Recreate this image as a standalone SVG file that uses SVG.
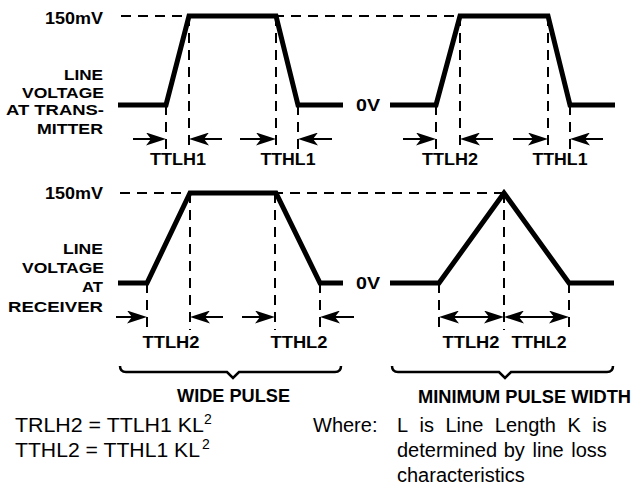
<svg xmlns="http://www.w3.org/2000/svg" width="633" height="491" viewBox="0 0 633 491">
<style>
  .wave { fill: none; stroke: #000; stroke-width: 5; stroke-linejoin: miter; stroke-linecap: butt; }
  .dash { fill: none; stroke: #000; stroke-width: 2; stroke-dasharray: 10 7; }
  .arr { stroke: #000; stroke-width: 2; }
  .brace { fill: none; stroke: #000; stroke-width: 2.5; stroke-linejoin: miter; }
  .lbl { font-family: "Liberation Sans", Arial, sans-serif; font-weight: bold; font-size: 17px; fill: #000; }
  .stk { font-family: "Liberation Sans", Arial, sans-serif; font-weight: bold; font-size: 15.5px; fill: #000; }
  .big { font-family: "Liberation Sans", Arial, sans-serif; font-weight: bold; font-size: 18px; fill: #000; }
  .txt { font-family: "Liberation Sans", Arial, sans-serif; font-size: 20px; fill: #000; }
  .sup { font-family: "Liberation Sans", Arial, sans-serif; font-size: 14px; fill: #000; }
</style>
<defs>
  <marker id="ah" markerUnits="userSpaceOnUse" markerWidth="20" markerHeight="13" viewBox="0 0 20 13" refX="17" refY="6.5" orient="auto-start-reverse">
    <path d="M0,0 L20,6.5 L0,13 L5,6.5 Z" fill="#000"/>
  </marker>
</defs>

<g id="reference-lines">
  <line class="dash" x1="121" y1="16" x2="458" y2="16"/>
  <line class="dash" x1="120" y1="193" x2="503" y2="193"/>
  <line class="dash" x1="166" y1="105" x2="166" y2="152"/>
  <line class="dash" x1="189" y1="16" x2="189" y2="152"/>
  <line class="dash" x1="276" y1="16" x2="276" y2="152"/>
  <line class="dash" x1="298" y1="105" x2="298" y2="152"/>
  <line class="dash" x1="436" y1="105" x2="436" y2="152"/>
  <line class="dash" x1="460" y1="16" x2="460" y2="152"/>
  <line class="dash" x1="548" y1="16" x2="548" y2="152"/>
  <line class="dash" x1="570" y1="105" x2="570" y2="152"/>
  <line class="dash" x1="147" y1="283" x2="147" y2="330"/>
  <line class="dash" x1="190" y1="193" x2="190" y2="330"/>
  <line class="dash" x1="275" y1="193" x2="275" y2="330"/>
  <line class="dash" x1="320" y1="283" x2="320" y2="330"/>
  <line class="dash" x1="439" y1="283" x2="439" y2="330"/>
  <line class="dash" x1="504" y1="193" x2="504" y2="330"/>
  <line class="dash" x1="569" y1="283" x2="569" y2="330"/>
</g>

<g id="waveform-transmitter-wide">
  <polyline class="wave" points="118,105 166,105 189,16 276,16 298,105 343,105"/>
</g>
<g id="waveform-transmitter-min">
  <polyline class="wave" points="390,105 436,105 460,16 548,16 570,105 615,105"/>
</g>
<g id="waveform-receiver-wide">
  <polyline class="wave" points="118,283 147,283 190,193 276,193 320,283 343,283"/>
</g>
<g id="waveform-receiver-min">
  <polyline class="wave" points="390,283 439,283 504,193 569,283 614,283"/>
</g>

<g id="connectors">
  <line class="arr" x1="133" y1="139" x2="163" y2="139" marker-end="url(#ah)"/>
  <line class="arr" x1="222" y1="139" x2="192" y2="139" marker-end="url(#ah)"/>
  <line class="arr" x1="240" y1="139" x2="273" y2="139" marker-end="url(#ah)"/>
  <line class="arr" x1="332" y1="139" x2="301" y2="139" marker-end="url(#ah)"/>
  <line class="arr" x1="403" y1="139" x2="433" y2="139" marker-end="url(#ah)"/>
  <line class="arr" x1="493" y1="139" x2="463" y2="139" marker-end="url(#ah)"/>
  <line class="arr" x1="513" y1="139" x2="545" y2="139" marker-end="url(#ah)"/>
  <line class="arr" x1="603" y1="139" x2="573" y2="139" marker-end="url(#ah)"/>
  <line class="arr" x1="116" y1="317" x2="144" y2="317" marker-end="url(#ah)"/>
  <line class="arr" x1="223" y1="317" x2="193" y2="317" marker-end="url(#ah)"/>
  <line class="arr" x1="242" y1="317" x2="272" y2="317" marker-end="url(#ah)"/>
  <line class="arr" x1="354" y1="317" x2="323" y2="317" marker-end="url(#ah)"/>
  <line class="arr" x1="442" y1="317" x2="501" y2="317" marker-start="url(#ah)" marker-end="url(#ah)"/>
  <line class="arr" x1="507" y1="317" x2="566" y2="317" marker-start="url(#ah)" marker-end="url(#ah)"/>
</g>

<g id="braces">
  <path class="brace" d="M120,366 Q120,372 126,372 L227,372 L233,378 L239,372 L335,372 Q341,372 341,366"/>
  <path class="brace" d="M392,366 Q392,372 398,372 L499,372 L505,378 L511,372 L607,372 Q613,372 613,366"/>
</g>

<g id="labels-transmitter">
  <text class="lbl" x="103" y="24" text-anchor="end" textLength="58" lengthAdjust="spacingAndGlyphs">150mV</text>
  <text class="stk" x="103" y="80" text-anchor="end" textLength="39" lengthAdjust="spacingAndGlyphs">LINE</text>
  <text class="stk" x="104" y="97.5" text-anchor="end" textLength="82" lengthAdjust="spacingAndGlyphs">VOLTAGE</text>
  <text class="stk" x="104" y="115" text-anchor="end" textLength="98" lengthAdjust="spacingAndGlyphs">AT TRANS-</text>
  <text class="stk" x="103" y="133.5" text-anchor="end" textLength="66" lengthAdjust="spacingAndGlyphs">MITTER</text>
  <text class="lbl" x="368" y="110.5" text-anchor="middle" textLength="24" lengthAdjust="spacingAndGlyphs">0V</text>
  <text class="lbl" x="178" y="164.5" text-anchor="middle" textLength="56" lengthAdjust="spacingAndGlyphs">TTLH1</text>
  <text class="lbl" x="288" y="164.5" text-anchor="middle" textLength="55" lengthAdjust="spacingAndGlyphs">TTHL1</text>
  <text class="lbl" x="450" y="164.5" text-anchor="middle" textLength="56" lengthAdjust="spacingAndGlyphs">TTLH2</text>
  <text class="lbl" x="560" y="164.5" text-anchor="middle" textLength="55" lengthAdjust="spacingAndGlyphs">TTHL1</text>
</g>

<g id="labels-receiver">
  <text class="lbl" x="103" y="199" text-anchor="end" textLength="58" lengthAdjust="spacingAndGlyphs">150mV</text>
  <text class="stk" x="103" y="254" text-anchor="end" textLength="40" lengthAdjust="spacingAndGlyphs">LINE</text>
  <text class="stk" x="104" y="273" text-anchor="end" textLength="82" lengthAdjust="spacingAndGlyphs">VOLTAGE</text>
  <text class="stk" x="103" y="292" text-anchor="end" textLength="21" lengthAdjust="spacingAndGlyphs">AT</text>
  <text class="stk" x="103" y="311.5" text-anchor="end" textLength="95" lengthAdjust="spacingAndGlyphs">RECEIVER</text>
  <text class="lbl" x="368" y="288.5" text-anchor="middle" textLength="24" lengthAdjust="spacingAndGlyphs">0V</text>
  <text class="lbl" x="171" y="348" text-anchor="middle" textLength="57" lengthAdjust="spacingAndGlyphs">TTLH2</text>
  <text class="lbl" x="299" y="348" text-anchor="middle" textLength="57" lengthAdjust="spacingAndGlyphs">TTHL2</text>
  <text class="lbl" x="471" y="348" text-anchor="middle" textLength="57" lengthAdjust="spacingAndGlyphs">TTLH2</text>
  <text class="lbl" x="539" y="348" text-anchor="middle" textLength="55" lengthAdjust="spacingAndGlyphs">TTHL2</text>
</g>

<g id="captions">
  <text class="big" x="177" y="402" textLength="113" lengthAdjust="spacingAndGlyphs">WIDE PULSE</text>
  <text class="big" x="418" y="403" textLength="213" lengthAdjust="spacingAndGlyphs">MINIMUM PULSE WIDTH</text>
</g>

<g id="formulas">
  <text class="txt" x="15" y="432" textLength="189" lengthAdjust="spacingAndGlyphs">TRLH2 = TTLH1 KL</text>
  <text class="sup" x="204" y="424">2</text>
  <text class="txt" x="15" y="457" textLength="185" lengthAdjust="spacingAndGlyphs">TTHL2 = TTHL1 KL</text>
  <text class="sup" x="202" y="449">2</text>
</g>

<g id="note">
  <text class="txt" x="313" y="432">Where:</text>
  <text class="txt" x="397" y="432">L</text>
  <text class="txt" x="419.6" y="432">is</text>
  <text class="txt" x="445.5" y="432">Line</text>
  <text class="txt" x="494.8" y="432">Length</text>
  <text class="txt" x="567.5" y="432">K</text>
  <text class="txt" x="592.3" y="432">is</text>
  <text class="txt" x="397" y="457">determined</text>
  <text class="txt" x="503.7" y="457">by</text>
  <text class="txt" x="532.5" y="457">line</text>
  <text class="txt" x="571.3" y="457">loss</text>
  <text class="txt" x="397" y="482">characteristics</text>
</g>
</svg>
